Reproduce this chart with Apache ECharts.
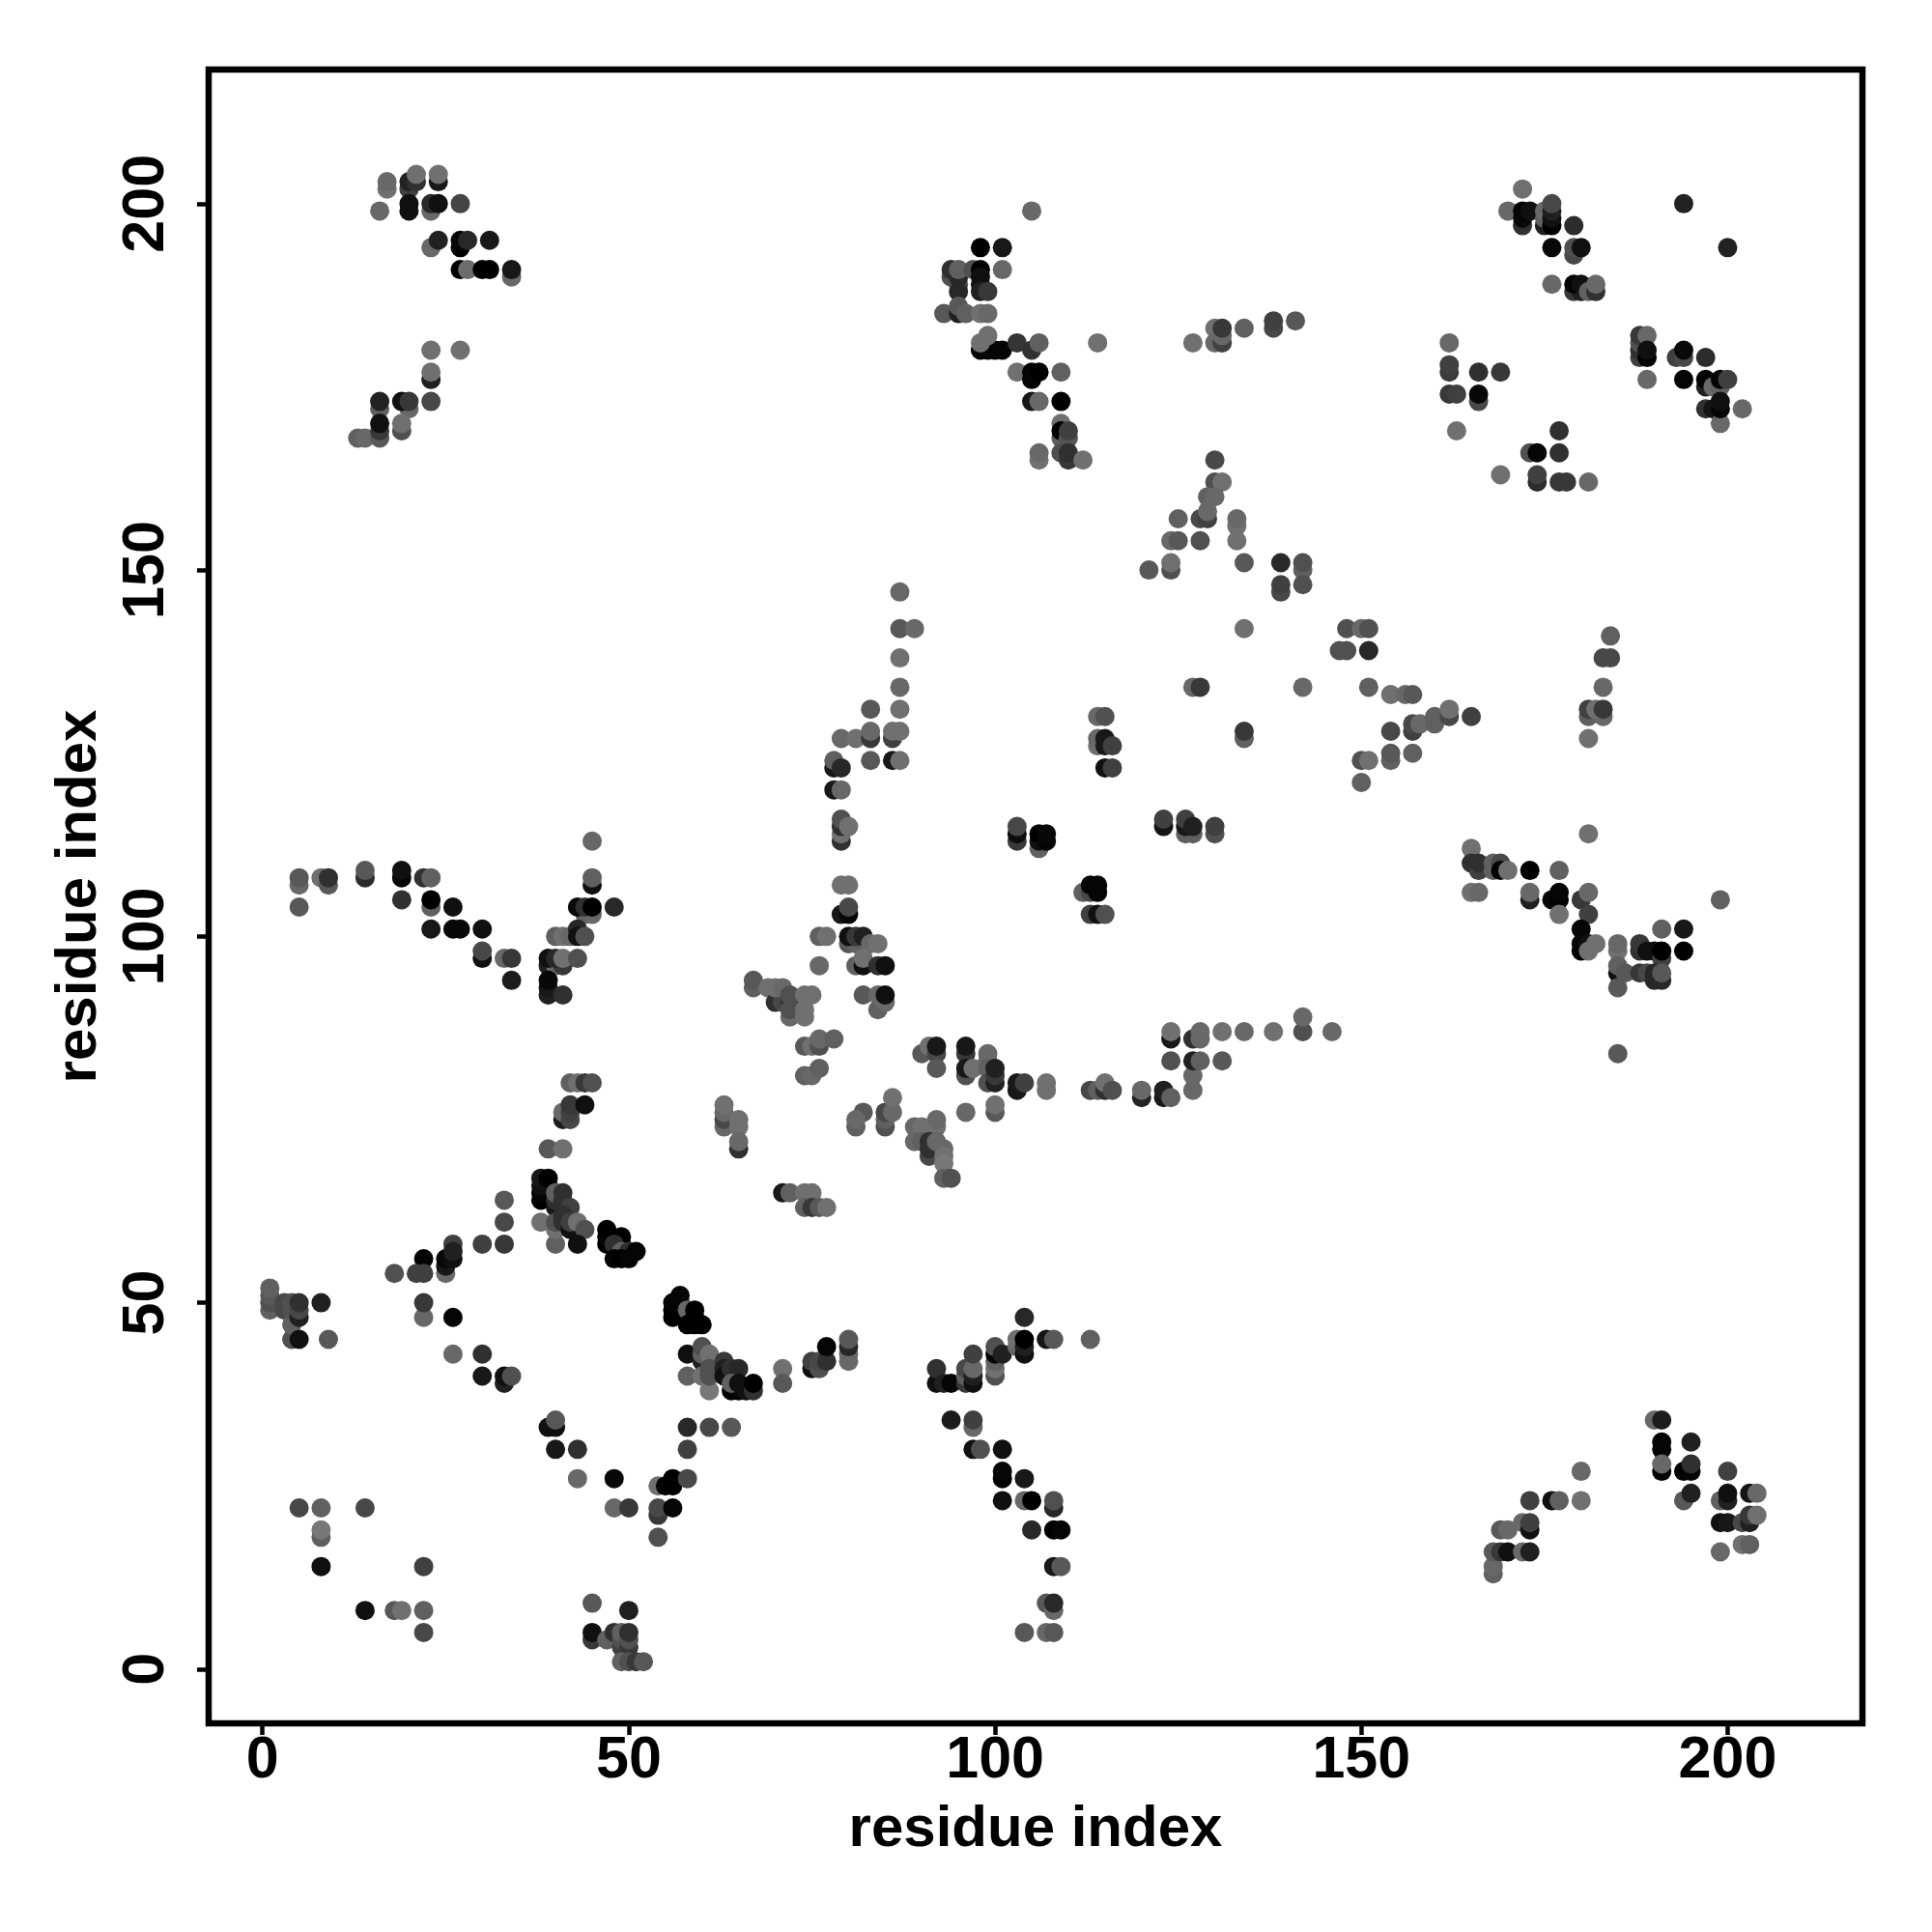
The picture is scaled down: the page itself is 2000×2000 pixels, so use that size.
<!DOCTYPE html>
<html><head><meta charset="utf-8">
<script src="https://cdn.jsdelivr.net/npm/echarts@6/dist/echarts.min.js"></script>
<style>html,body{margin:0;padding:0;background:#fff}#c{width:2000px;height:2000px}</style>
</head><body><div id="c"></div>
<script>
// each entry: [residue i, residue j, shade level (0 black .. 120 mid grey)]
const tickValues=[0,50,100,150,200];
const axisName='residue index';
const clusterTopLeft=[[17,202,0x70],[17,203,0x68],[16,199,0x68],[20,202,0x40],[20,203,0x22],[21,203,0x30],[21,204,0x70],[20,199,0x10],[20,200,0x10],[24,203,0x18],[24,204,0x70],[23,199,0x68],[23,200,0x28],[24,200,0x10],[27,200,0x45],[23,194,0x68],[24,195,0x22],[27,194,0],[27,195,8],[28,195,0x28],[31,195,0x18],[27,191,0],[28,191,0x6c],[30,191,0],[31,191,0],[34,190,0x68],[34,191,0x18]];
const clusterLeftLow=[[23,180,0x70],[27,180,0x70],[23,176,0x20],[23,177,0x70],[16,172,0x60],[16,173,0x22],[20,172,0x68],[19,173,0x10],[20,173,0x38],[23,173,0x48],[13,168,0x60],[14,168,0x68],[16,168,0x58],[16,169,0x38],[16,170,0x10],[19,169,0x50],[19,170,0x70]];
const clusterTopMid=[[105,199,0x68],[98,194,0],[101,194,0x18],[101,191,0x68],[94,190,0x50],[94,191,0x30],[95,189,0x50],[95,188,0x28],[95,190,0x28],[95,191,0x60],[97,191,0x50],[98,191,0],[98,190,0x10],[98,189,0x10],[98,188,0x20],[99,188,0x38],[93,185,0x58],[95,185,0x20],[95,186,0x58],[96,185,0x60],[98,185,0x70],[99,185,0x68],[98,180,0],[99,180,8],[100,180,5],[101,180,5],[98,181,0x70],[99,182,0x70],[103,181,0x35],[105,180,0x30],[106,181,0x60],[114,181,0x70]];
const clusterFlat=[[127,181,0x70],[130,183,0x70],[130,181,0x68],[131,181,0x40],[131,182,0x68],[131,183,0x38],[134,183,0x60],[138,183,0x48],[138,184,0x40],[141,184,0x58]];
const clusterDrop=[[103,177,0x70],[105,176,5],[105,177,5],[106,177,0],[109,177,0x60],[105,173,0x18],[106,173,0x68],[109,173,0],[109,168,0x60],[109,170,0x70],[109,169,0],[110,168,0x55],[110,169,0x40],[106,165,0x70],[106,166,0x68],[109,166,0x50],[110,165,0x38],[110,166,0x30],[112,165,0x70]];
const clusterPeak=[[130,165,0x48],[130,162,0x50],[131,162,0x70],[129,160,0x60],[130,160,0x68],[128,157,0x48],[129,157,0x40],[129,158,0x68],[125,157,0x60],[124,154,0x68],[125,154,0x58],[128,154,0x50],[133,156,0x70],[133,157,0x68],[133,154,0x70],[121,150,0x58],[124,150,0x50],[124,151,0x70],[134,151,0x58],[139,151,0x28],[139,147,0x48],[139,148,0x40],[142,150,0x60],[142,151,0x50],[142,148,0x50],[134,142,0x70]];
const clusterRise=[[87,147,0x68],[87,142,0x58],[89,142,0x68],[87,138,0x70],[87,134,0x68],[127,134,0x68],[128,134,0x38],[142,134,0x68],[83,131,0x58],[87,131,0x70],[79,127,0x68],[81,127,0x70],[83,127,0x38],[83,128,0x68],[86,127,0x40],[86,128,0x70],[87,128,0x70],[83,124,0x58],[86,124,0x18],[87,124,0x70],[78,123,0x18],[78,124,0x60],[79,123,0x28],[78,120,0x18],[79,120,0x68],[79,113,0x30],[79,114,0x70],[79,115,0x30],[79,116,0x50],[80,115,0x70],[79,107,0x70],[80,107,0x70],[79,103,0x18],[80,103,8],[80,104,0x48],[76,100,0x60],[77,100,0x70]];
const clusterTopRight=[[172,202,0x70],[170,199,0x68],[172,197,0x30],[172,198,0x0a],[172,199,5],[173,199,0x10],[175,197,0x20],[175,198,0x60],[175,199,0x68],[176,197,0],[176,198,0x10],[176,199,0x20],[176,200,0x48],[179,197,0x2c],[176,194,8],[179,193,0x48],[179,194,0x50],[180,194,0x10],[176,189,0x68],[179,188,0x38],[180,188,0x20],[179,189,5],[180,189,0x10],[181,188,0x60],[182,188,0x30],[182,189,0x68],[194,200,0x22],[200,194,0x22]];
const clusterRightUp=[[162,181,0x68],[162,177,0x3c],[162,178,0x40],[166,177,0x30],[169,177,0x38],[162,174,0x38],[163,174,0x40],[166,173,0x48],[166,174,8],[163,169,0x70],[177,169,0x30],[173,166,0x50],[174,166,5],[177,166,0x30],[169,163,0x70],[174,162,0x2c],[174,163,0x40],[177,162,0x38],[178,162,0x38],[181,162,0x68]];
const clusterRightTail=[[188,179,0x40],[188,180,0x30],[188,181,0x50],[188,182,0x38],[189,182,0x68],[189,179,0],[189,180,0x10],[189,176,0x68],[193,179,0x40],[194,179,0x48],[194,180,0x0a],[197,179,0x2c],[194,176,5],[197,175,0x20],[197,176,5],[198,175,0x68],[199,175,0x60],[199,176,5],[200,176,0x40],[197,172,0x30],[198,172,0x15],[199,170,0x68],[199,172,5],[199,173,0x10],[202,172,0x68]];
const clusterBranch=[[148,142,0x50],[150,142,0x68],[151,142,0x50],[147,139,0x50],[148,139,0x50],[151,139,0x28],[151,134,0x60],[154,133,0x70],[156,133,0x68],[157,133,0x58],[157,128,0x40],[157,129,0x48],[158,129,0x68],[160,129,0x60],[160,130,0x60],[162,130,0x48],[162,131,0x70],[165,130,0x40],[154,128,0x48],[154,124,0x60],[154,125,0x58],[157,125,0x60],[150,124,0x50],[151,124,0x70],[150,121,0x60]];
const clusterFarRight=[[184,141,0x60],[183,138,0x48],[184,138,0x48],[183,134,0x68],[181,130,0x60],[183,130,0x68],[181,131,0x40],[182,131,0x70],[183,131,0x38],[181,127,0x70],[181,114,0x70]];
const clusterVee=[[45,113,0x68],[5,107,0x68],[5,108,0x58],[8,108,0x70],[9,107,0x58],[9,108,0x30],[14,108,0x2c],[14,109,0x58],[19,108,5],[19,109,0x10],[22,108,0x30],[23,108,0x60],[5,104,0x58],[19,105,0x30],[23,104,0x60],[23,105,0],[26,104,0x10],[23,101,0x18],[26,101,8],[27,101,8],[30,101,0x10],[30,97,0x10],[30,98,0x48],[33,97,0x68],[34,97,0x38],[34,94,0x1c],[45,107,0x10],[45,108,0x60],[44,103,0x60],[45,103,0x68],[43,104,8],[44,104,0x30],[45,104,0],[48,104,0x28],[40,100,0x60],[41,100,0x70],[42,100,0x68],[43,101,0x28],[43,100,0x10],[44,100,0x50],[39,96,0x20],[40,96,0x68],[41,96,0x38],[39,97,0x10],[40,97,0x28],[41,97,0x70],[43,97,0x50],[39,92,0x20],[39,93,0x18],[39,94,8],[41,92,0x30]];
const clusterLeftMid=[[42,80,0x60],[43,80,0x70],[44,80,0x38],[45,80,0x50],[41,75,0x1c],[41,76,0x68],[42,75,0x48],[42,76,0x40],[42,77,0x38],[44,77,0x10],[39,71,0x58],[41,71,0x70],[63,74,0x68],[63,75,0x48],[63,76,0x68],[63,77,0x70],[65,74,0x70],[65,75,0x70],[65,71,0x30],[65,72,0x68],[67,93,0x60],[67,94,0x58],[69,93,0x70]];
const clusterKnot=[[33,64,0x58],[33,61,0x48],[33,58,0x38],[26,58,0x40],[30,58,0x40],[38,64,0],[38,65,5],[38,66,0x10],[38,67,0x18],[39,66,0x10],[39,67,0],[40,63,0x18],[41,63,5],[40,64,0x30],[40,65,0x60],[41,64,0x30],[41,65,0x30],[42,63,0x40],[38,61,0x70],[40,58,0x60],[40,60,0x70],[40,61,0x50],[41,61,0x30],[41,62,0x30],[42,60,0x10],[42,61,0x40],[43,61,0x70],[44,60,0x50],[43,58,0x10],[47,58,0],[47,59,5],[47,60,0],[49,58,0x10],[49,59,0],[48,58,0x30],[49,57,0x60],[50,57,0x30],[51,57,5],[48,56,5],[49,56,0],[50,56,5]];
const clusterLowLeft=[[22,56,5],[25,54,0x68],[25,55,0x18],[25,56,8],[26,56,0x10],[26,57,0x20],[18,54,0x50],[21,54,0x40],[22,54,0x40],[1,49,0x60],[1,50,0x50],[1,51,0x58],[1,52,0x60],[3,49,0x48],[3,50,0x48],[4,45,0x50],[4,47,0x60],[4,49,0x50],[4,50,0x50],[5,48,0x20],[5,49,0x48],[5,50,0x30],[8,50,0x20],[5,45,0x10],[9,45,0x58],[22,48,0x68],[22,50,0x38],[26,48,5],[26,43,0x68],[30,43,0x30],[30,40,0x18],[33,39,0x20],[33,40,0x10],[34,40,0x50],[39,33,0x10],[40,33,0x10],[40,34,0x58],[40,30,0x18],[43,30,0x30],[43,26,0x68],[48,26,8]];
const clusterCentreLow=[[64,33,0x58],[61,33,0x48],[58,33,0x28],[58,30,0x40],[54,25,0x70],[55,25,5],[56,25,0],[56,26,0],[58,26,0x48],[48,22,0x68],[50,22,0x38],[54,21,0x38],[54,22,0x48],[56,22,5],[54,18,0x50]];
const clusterCorner=[[5,22,0x48],[8,22,0x60],[14,22,0x48],[8,18,0x60],[8,19,0x78],[8,14,0x10],[22,14,0x40],[14,8,0x10],[18,8,0x58],[19,8,0x70],[22,8,0x60],[22,5,0x48],[45,9,0x58],[50,8,0x20],[45,4,0x38],[45,5,0x10],[47,4,0x60],[48,5,0x30],[49,3,0x40],[49,4,0x50],[49,5,0x60],[50,3,0x38],[50,4,0x50],[50,5,0x30],[49,1,0x60],[50,1,0x50],[51,1,0x38],[52,1,0x58]];
const clusterDiag=[[57,50,0x30],[57,51,8],[56,48,0],[56,49,0],[56,50,5],[58,49,0x68],[59,48,0],[59,47,0],[59,49,0],[58,47,0],[60,47,0],[58,43,0x10],[60,42,0x20],[60,43,0x60],[60,44,0x50],[61,43,0x70],[58,40,0x60],[60,40,0x70],[61,38,0x78],[61,40,0x50],[61,41,0x50],[63,42,0x38],[63,41,0x20],[63,40,0x10],[64,41,0x30],[65,41,0x28],[64,38,0],[65,38,5],[64,39,0x60],[65,39,0x10],[66,38,0x10],[67,38,0x30],[67,39,0]];
const clusterArc=[[71,41,0x70],[71,39,0x58],[75,41,0x10],[75,42,0x40],[76,41,0x50],[76,42,0x48],[77,42,0x30],[77,44,5],[80,42,0x68],[80,43,0x68],[80,44,0x28],[80,45,0x58],[92,39,0x10],[92,41,0x30],[93,39,0x20],[94,39,5],[96,39,0x38],[96,40,0x60],[96,41,0x48],[97,39,0x10],[97,40,0x20],[97,41,0x68],[97,43,0x40],[100,40,0x50],[100,41,0x70],[100,42,0x60],[100,43,5],[100,44,0x50],[101,43,0x20],[103,44,0x68],[103,45,0x70],[104,43,0x10],[104,44,0x20],[104,45,0],[104,48,0x28],[107,45,0x15],[108,45,0x58],[113,45,0x60]];
const clusterFall=[[94,34,0x1c],[97,33,0x68],[97,34,0x40],[97,30,0x10],[98,30,0x50],[101,30,0x10],[101,26,0],[101,27,8],[104,26,0x18],[101,23,0x10],[104,23,0x68],[105,23,0],[108,22,0x28],[108,23,0x50],[105,19,0x28],[108,19,0],[109,19,5],[108,14,0x18],[109,14,0x58],[107,9,0x58],[108,8,0x68],[108,9,0x28],[104,5,0x58],[107,5,0x68],[108,5,0x58]];
const clusterLowRight=[[168,13,0x60],[168,14,0x68],[168,16,0x58],[169,16,0x38],[170,16,0x10],[172,16,0x68],[173,16,0x20],[169,19,0x58],[170,19,0x68],[172,20,0x68],[173,19,0x10],[173,20,0x40],[173,23,0x40],[176,23,0x10],[177,23,0x60],[180,23,0x70],[180,27,0x68],[190,34,0x68],[191,34,0x1c],[191,30,5],[191,31,5],[191,27,0],[191,28,0x68],[195,31,0x20],[194,27,0],[195,27,5],[195,28,0x30],[194,23,0x58],[195,24,0x20],[200,27,0x40],[199,23,0x60],[200,23,0x20],[200,24,0x10],[199,20,0x10],[200,20,0x18],[202,20,0x48],[203,24,0x15],[204,24,0x68],[203,20,0x20],[203,21,0x38],[204,21,0x70],[202,17,0x70],[203,17,0x60],[199,16,0x68]];
const clusterMidWeb=[[80,99,0x58],[81,99,0x60],[80,100,0x10],[81,100,0x38],[82,100,0x20],[83,99,0x68],[84,99,0x70],[76,96,0x68],[81,96,0x60],[82,96,0x10],[82,97,0x70],[84,96,0x30],[85,96,0x10],[82,92,0x58],[84,90,0x60],[84,92,0x68],[85,91,0x68],[85,92,0x10],[70,91,0x30],[71,91,0x48],[72,91,0x38],[70,93,0x70],[71,93,0x68],[72,92,0x50],[72,89,0x68],[72,90,0x50],[74,89,0x70],[74,90,0x70],[74,92,0x70],[75,92,0x70],[74,85,0x58],[75,85,0x70],[76,85,0x50],[76,86,0x68],[78,86,0x60],[74,81,0x60],[75,81,0x68],[76,82,0x60]];
const clusterMidLow=[[82,76,0x58],[81,74,0x60],[81,75,0x68],[85,74,0x50],[85,75,0x60],[85,76,0x48],[86,76,0x68],[86,78,0x70],[89,74,0x68],[90,74,0x70],[92,74,0x70],[92,75,0x68],[89,72,0x68],[90,72,0x60],[91,70,0x48],[91,71,0x30],[91,72,0x30],[92,72,0x68],[93,71,0x68],[93,70,0x70],[93,69,0x78],[93,67,0x60],[94,67,0x50],[71,65,0x18],[72,65,0x60],[74,65,0x70],[75,65,0x70],[74,63,0x60],[75,63,0x38],[76,63,0x58],[77,63,0x70]];
const clusterBand=[[90,84,0x58],[91,85,0x70],[92,84,0x48],[92,85,0x18],[92,82,0x58],[96,84,0x38],[96,85,0x18],[96,81,0x50],[96,82,0x18],[97,82,0x70],[99,84,0x68],[99,83,0x68],[99,82,0x60],[99,80,0x50],[100,80,0x20],[100,81,0x38],[100,82,0x20],[103,79,0x18],[103,80,0x18],[104,80,0x40],[107,79,0x70],[107,80,0x70],[96,76,0x68],[100,76,0x58],[100,77,0x70],[113,79,0x48],[114,79,0x60],[115,79,0x30],[115,80,0x70],[116,79,0x50],[120,78,0x22],[120,79,0x68],[123,78,0x18],[123,79,0x20],[124,78,0x60],[127,79,0x68],[127,81,0x68],[124,86,0x18],[124,87,0x70],[124,83,0x50],[127,86,0x30],[128,86,0x68],[128,87,0x68],[127,83,0x20],[128,83,0x60],[131,87,0x70],[131,83,0x58],[134,87,0x68],[138,87,0x70],[142,87,0x50],[142,89,0x68],[146,87,0x68]];
const clusterIslands=[[103,113,0x38],[103,114,0x0c],[103,115,0x48],[106,112,0x60],[106,113,0x10],[106,114,0],[107,113,5],[107,114,8],[123,115,0x14],[123,116,0x40],[126,114,0x60],[127,114,0x60],[126,115,0x18],[126,116,0x40],[127,115,0x20],[130,114,0x50],[130,115,0x40],[112,106,0x60],[113,106,0x48],[114,106,5],[113,107,5],[114,107,5],[113,103,0x40],[114,103,0x10],[115,103,0x50],[114,130,0x68],[115,130,0x50],[114,126,0x70],[114,127,0x68],[115,126,0x18],[115,127,0x18],[116,126,0x40],[115,123,0x10],[116,123,0x40],[134,127,0x60],[134,128,0x38]];
const clusterRightMid=[[165,112,0x70],[165,110,0x30],[166,109,0x40],[166,110,0x30],[168,109,0x60],[168,110,0x60],[169,110,0x48],[169,109,0],[170,109,0x70],[173,109,0],[177,109,0x60],[165,106,0x70],[166,106,0x68],[173,105,0x20],[173,106,0x68],[176,105,8],[177,105,0],[177,106,5],[177,103,0x70],[180,105,0x38],[181,106,0x68],[181,103,0x40],[180,101,5],[180,98,0],[180,99,8],[181,99,0x10],[181,98,0x70],[182,99,0x70],[185,98,0x70],[185,99,0x68],[188,98,0x30],[188,99,0x38],[189,98,0x10],[190,98,0x10],[191,97,0x40],[191,98,0],[194,98,0],[191,101,0x60],[194,101,0x18],[185,95,0x10],[185,96,0x60],[186,95,0x58],[185,93,0x58],[188,95,0x38],[189,95,0x48],[190,94,0x28],[190,95,0x28],[191,94,0x28],[191,95,0x58],[185,84,0x58],[199,105,0x60]];
const contactGroups=[clusterTopLeft,clusterLeftLow,clusterTopMid,clusterFlat,clusterDrop,clusterPeak,clusterRise,clusterTopRight,clusterRightUp,clusterRightTail,clusterBranch,clusterFarRight,clusterVee,clusterLeftMid,clusterKnot,clusterLowLeft,clusterCentreLow,clusterCorner,clusterDiag,clusterArc,clusterFall,clusterLowRight,clusterMidWeb,clusterMidLow,clusterBand,clusterIslands,clusterRightMid];
const contacts=contactGroups.flat();

const chart=echarts.init(document.getElementById('c'),null,{renderer:'canvas',width:2000,height:2000});
const font='"Liberation Sans",Arial,Helvetica,sans-serif';
function axis(rotate,nameRotate,gap,margin,min,max){return {
  type:'value',min:min,max:max,scale:true,
  name:axisName,nameLocation:'middle',nameGap:gap,nameRotate:nameRotate,
  nameTextStyle:{fontFamily:font,fontWeight:'bold',fontSize:60,color:'#000'},
  axisLine:{show:false,onZero:false},splitLine:{show:false},
  axisTick:{show:true,length:12,inside:false,lineStyle:{color:'#000',width:4.5},customValues:tickValues},
  axisLabel:{show:true,rotate:rotate,margin:margin,fontFamily:font,fontWeight:'bold',fontSize:61,color:'#000',customValues:tickValues,formatter:v=>String(v),hideOverlap:false}
};}
chart.setOption({
  animation:false,backgroundColor:'#fff',
  grid:{show:true,left:216,right:72,top:72,bottom:216,borderColor:'#000',borderWidth:6.5,backgroundColor:'#fff',containLabel:false},
  xAxis:axis(0,0,80,9,-7.35,218.4),
  yAxis:axis(90,90,104,33,-7.4,218.3),
  series:[{type:'scatter',symbol:'circle',symbolSize:20,clip:false,silent:true,
    data:contacts.map(c=>({value:[c[0],c[1]],itemStyle:{color:`rgb(${c[2]},${c[2]},${c[2]})`,opacity:1}}))}]
});
</script></body></html>
